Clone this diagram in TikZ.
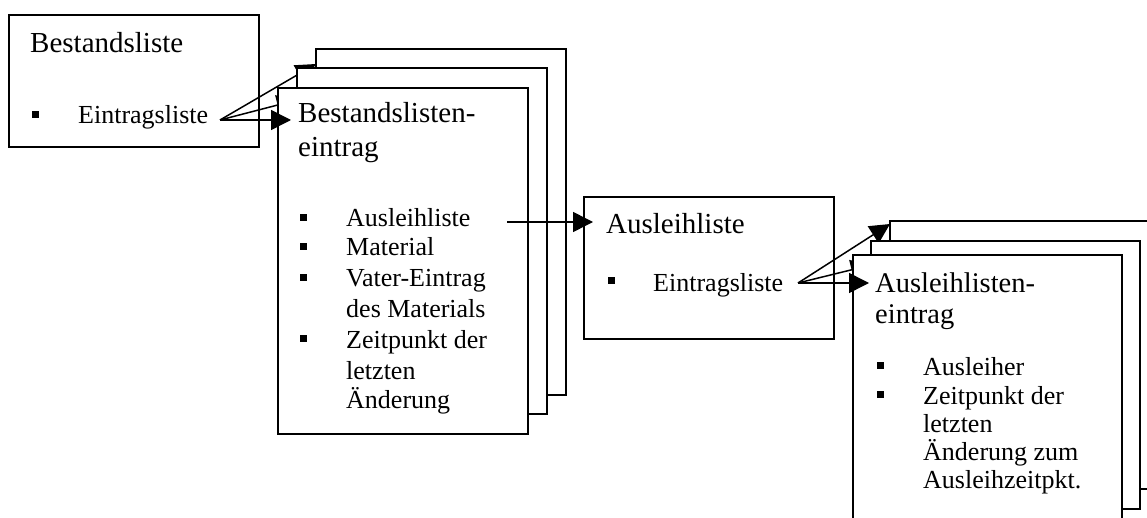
\documentclass[tikz,border=0pt]{standalone}
\usepackage{fontspec}
\setmainfont{Liberation Serif}
\usetikzlibrary{arrows.meta}
\begin{document}
\begin{tikzpicture}[x=1pt,y=-1pt,
  card/.style={draw, fill=white, line width=1.5pt, inner sep=0pt, outer sep=0pt, anchor=north west},
  head/.style={anchor=base west, inner sep=0pt, font=\fontsize{29}{34}\selectfont},
  headb/.style={anchor=base west, inner sep=0pt, font=\fontsize{28.5}{34}\selectfont},
  item/.style={anchor=base west, inner sep=0pt, font=\fontsize{26}{30}\selectfont},
  dot/.style={fill=black, minimum size=7pt, inner sep=0pt, outer sep=0pt},
  link/.style={line width=1.5pt, -{Triangle[length=20pt,width=20pt]}}]
\fill[white] (0,0) rectangle (1147,518);
\clip (0,0) rectangle (1147,518);

% Bestandsliste
\node[card, minimum width=250pt, minimum height=132pt] (bl) at (9,15) {};
\node[head] (blT) at (30,53) {Bestandsliste};
\node[dot] (blD) at (35.5,114.5) {};
\node[item] (blI) at (78,124) {Eintragsliste};
\coordinate (blS) at (220,120);

% stack of Bestandslisteneintrag cards
\coordinate (beBackT) at (316,64);
\coordinate (beMidT) at (297,100);
\coordinate (beFrontT) at (291,120);
\node[card, minimum width=250pt, minimum height=346pt] (beBack) at (316,49) {};
\draw[link] (blS) -- (beBackT);
\node[card, minimum width=250pt, minimum height=346pt] (beMid) at (297,68) {};
\draw[link] (blS) -- (beMidT);
\node[card, minimum width=250pt, minimum height=346pt] (be) at (278,88) {};
\draw[link] (blS) -- (beFrontT);
\node[head] (beT1) at (298,123) {Bestandslisten-};
\node[head] (beT2) at (298,157) {eintrag};
\node[dot] (beD1) at (303,217.5) {};
\node[dot] (beD2) at (303,246.5) {};
\node[dot] (beD3) at (303,277.5) {};
\node[dot] (beD4) at (303,338.5) {};
\node[item] (beI1) at (346,227) {Ausleihliste};
\node[item] (beI2) at (346,256) {Material};
\node[item] (beI3) at (346,287) {Vater-Eintrag};
\node[item] (beI4) at (346,317) {des Materials};
\node[item] (beI5) at (346,348) {Zeitpunkt der};
\node[item] (beI6) at (346,379) {letzten};
\node[item] (beI7) at (346,408) {Änderung};
\coordinate (beS) at (507,222);

% Ausleihliste
\node[card, minimum width=250pt, minimum height=142pt] (al) at (584,197) {};
\coordinate (alT) at (593,222);
\draw[link] (beS) -- (alT);
\node[head] (alH) at (606,234) {Ausleihliste};
\node[dot] (alD) at (611.5,280.5) {};
\node[item] (alI) at (653,291) {Eintragsliste};
\coordinate (alS) at (798,283);

% stack of Ausleihlisteneintrag cards
\coordinate (aeBackT) at (890,224);
\coordinate (aeMidT) at (871,265);
\coordinate (aeFrontT) at (869,283);
\node[card, minimum width=269pt, minimum height=268pt] (aeBack) at (890,221) {};
\draw[link] (alS) -- (aeBackT);
\node[card, minimum width=269pt, minimum height=268pt] (aeMid) at (871,241) {};
\draw[link] (alS) -- (aeMidT);
\node[card, minimum width=269pt, minimum height=280pt] (ae) at (853,255) {};
\draw[link] (alS) -- (aeFrontT);
\node[headb] (aeT1) at (875,292) {Ausleihlisten-};
\node[headb] (aeT2) at (875,323) {eintrag};
\node[dot] (aeD1) at (880,365.5) {};
\node[dot] (aeD2) at (880,394.5) {};
\node[item] (aeI1) at (923,375) {Ausleiher};
\node[item] (aeI2) at (923,404) {Zeitpunkt der};
\node[item] (aeI3) at (923,432) {letzten};
\node[item] (aeI4) at (923,460) {Änderung zum};
\node[item] (aeI5) at (923,488) {Ausleihzeitpkt.};
\end{tikzpicture}
\end{document}
